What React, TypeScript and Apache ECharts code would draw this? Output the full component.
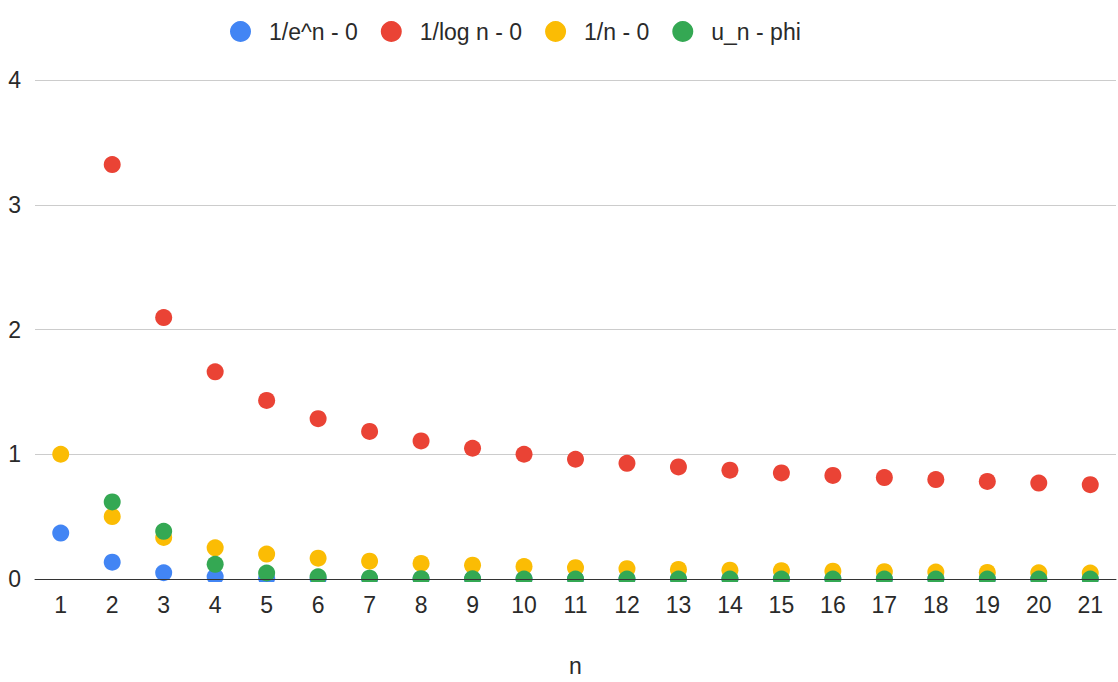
import React, { useEffect, useRef } from "react";
import * as echarts from "echarts";

// n = 1 … 21
const nValues = ["1","2","3","4","5","6","7","8","9","10","11","12","13","14","15","16","17","18","19","20","21"];

const invExp = [0.368, 0.135, 0.05, 0.018, 0.007, 0.002, 0.001, 0, 0, 0, 0, 0, 0, 0, 0, 0, 0, 0, 0, 0, 0];
const invLog = [null, 3.322, 2.096, 1.661, 1.431, 1.285, 1.183, 1.107, 1.048, 1.0, 0.96, 0.927, 0.898, 0.872, 0.85, 0.83, 0.813, 0.797, 0.782, 0.769, 0.756];
const invN = [1, 0.5, 0.333, 0.25, 0.2, 0.167, 0.143, 0.125, 0.111, 0.1, 0.091, 0.083, 0.077, 0.071, 0.067, 0.063, 0.059, 0.056, 0.053, 0.05, 0.048];
const unMinusPhi = [null, 0.618, 0.382, 0.118, 0.048, 0.018, 0.007, 0.003, 0.001, 0, 0, 0, 0, 0, 0, 0, 0, 0, 0, 0, 0];

const seriesNames = ["1/e^n - 0", "1/log n - 0", "1/n - 0", "u_n - phi"];
const seriesColors = ["#4285F4", "#EA4335", "#FBBC04", "#34A853"];
const seriesData = [invExp, invLog, invN, unMinusPhi];

const yTicks = { min: 0, max: 4, interval: 1 };

const FONT = "'Liberation Sans', Arial, sans-serif";
const FONT_SIZE = 23;
const TEXT_COLOR = "#2a2a2a";
const GRID = { left: 35, right: 2, top: 80, bottom: 101 };

export default function App() {
  const ref = useRef<HTMLDivElement>(null);

  useEffect(() => {
    if (!ref.current) return;
    const chart = echarts.init(ref.current, undefined, { renderer: "svg" });
    chart.setOption({
      animation: false,
      backgroundColor: "#ffffff",
      textStyle: { fontFamily: FONT },
      legend: {
        top: 15,
        left: 225,
        icon: "circle",
        itemWidth: 47,
        itemHeight: 21,
        itemGap: 23,
        textStyle: { color: TEXT_COLOR, fontSize: FONT_SIZE, fontFamily: FONT },
        data: seriesNames,
      },
      grid: { ...GRID, containLabel: false },
      xAxis: {
        type: "category",
        data: nValues,
        boundaryGap: true,
        z: 10,
        name: "n",
        nameLocation: "middle",
        nameGap: 75,
        nameTextStyle: { color: TEXT_COLOR, fontSize: FONT_SIZE, fontFamily: FONT },
        axisLine: { show: true, lineStyle: { color: "#333", width: 1 } },
        axisTick: { show: false },
        axisLabel: { color: TEXT_COLOR, fontSize: FONT_SIZE, margin: 14, fontFamily: FONT },
        splitLine: { show: false },
      },
      yAxis: {
        type: "value",
        min: yTicks.min,
        max: yTicks.max,
        interval: yTicks.interval,
        axisLine: { show: false },
        axisTick: { show: false },
        axisLabel: { color: TEXT_COLOR, fontSize: FONT_SIZE, margin: 14, fontFamily: FONT },
        splitLine: { show: true, lineStyle: { color: "#cccccc", width: 1 } },
      },
      // white band just below the zero line so markers sitting on it are cut in half
      graphic: [
        {
          type: "rect",
          left: GRID.left,
          top: 682 - GRID.bottom + 1,
          z: 5,
          silent: true,
          shape: { x: 0, y: 0, width: 1118 - GRID.left - GRID.right, height: 11 },
          style: { fill: "#ffffff" },
        },
      ],
      series: seriesNames.map((name, i) => ({
        name,
        type: "scatter",
        data: seriesData[i],
        symbol: "circle",
        symbolSize: 17,
        itemStyle: { color: seriesColors[i], opacity: 1 },
        z: 2,
      })),
    });
    return () => chart.dispose();
  }, []);

  return (
    <div
      ref={ref}
      style={{ position: "fixed", left: 0, top: 0, width: 1118, height: 682 }}
    />
  );
}
